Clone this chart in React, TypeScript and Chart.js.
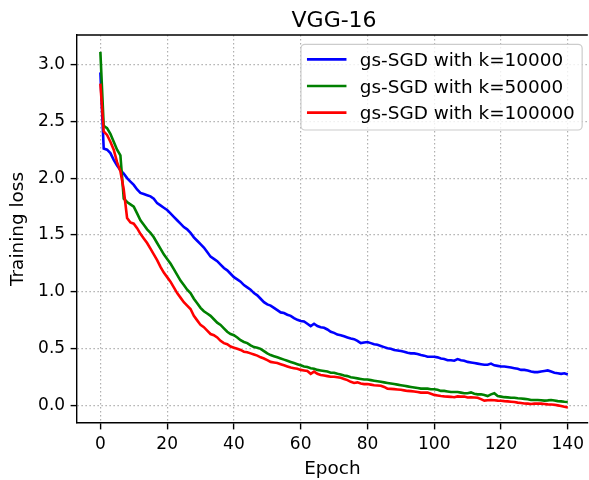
import React, { useEffect, useRef } from "react";
import { Chart, registerables } from "chart.js";

Chart.register(...registerables);

const chartTitle = "VGG-16";
const xAxisTitle = "Epoch";
const yAxisTitle = "Training loss";

const seriesLabels = ["gs-SGD with k=10000", "gs-SGD with k=50000", "gs-SGD with k=100000"];
const seriesColors = ["#0000ff", "#008000", "#ff0000"];

const epochs = Array.from({ length: 141 }, (_, i) => i);

const xTicks = [0, 20, 40, 60, 80, 100, 120, 140];
const yTicks = [0, 0.5, 1.0, 1.5, 2.0, 2.5, 3.0];

const lossK10000 = [
  2.93, 2.26, 2.25, 2.22, 2.16, 2.11, 2.07, 2.04, 2.0, 1.97,
  1.94, 1.9, 1.87, 1.86, 1.85, 1.84, 1.82, 1.78, 1.76, 1.74,
  1.72, 1.69, 1.66, 1.63, 1.6, 1.57, 1.55, 1.52, 1.48, 1.45,
  1.42, 1.39, 1.35, 1.31, 1.29, 1.27, 1.24, 1.21, 1.19, 1.16,
  1.13, 1.11, 1.09, 1.06, 1.04, 1.02, 0.99, 0.97, 0.94, 0.91,
  0.89, 0.88, 0.86, 0.84, 0.82, 0.815, 0.8, 0.79, 0.77, 0.755,
  0.745, 0.74, 0.72, 0.7, 0.72, 0.7, 0.69, 0.685, 0.67, 0.65,
  0.64, 0.625, 0.62, 0.61, 0.6, 0.59, 0.585, 0.57, 0.55, 0.555,
  0.56, 0.55, 0.54, 0.535, 0.525, 0.515, 0.505, 0.5, 0.49, 0.485,
  0.48, 0.475, 0.465, 0.46, 0.46, 0.455, 0.445, 0.44, 0.43, 0.43,
  0.43, 0.425, 0.415, 0.41, 0.4, 0.4, 0.395, 0.41, 0.4, 0.395,
  0.385, 0.38, 0.375, 0.37, 0.365, 0.36, 0.36, 0.37, 0.355, 0.35,
  0.345, 0.345, 0.34, 0.335, 0.33, 0.325, 0.315, 0.315, 0.31, 0.3,
  0.295, 0.295, 0.3, 0.305, 0.31, 0.3, 0.29, 0.285, 0.28, 0.285,
  0.275,
];

const lossK50000 = [
  3.11, 2.46, 2.44, 2.39, 2.32, 2.25, 2.2, 1.82, 1.79, 1.77,
  1.75, 1.69, 1.63, 1.59, 1.55, 1.52, 1.48, 1.43, 1.38, 1.33,
  1.29, 1.25, 1.2, 1.15, 1.1, 1.06, 1.02, 0.99, 0.94, 0.9,
  0.86, 0.83, 0.81, 0.79, 0.76, 0.73, 0.71, 0.68, 0.65, 0.63,
  0.62, 0.6, 0.575, 0.56, 0.55, 0.53, 0.515, 0.51, 0.5, 0.48,
  0.46, 0.445, 0.435, 0.425, 0.415, 0.405, 0.395, 0.385, 0.375, 0.365,
  0.355, 0.345, 0.34, 0.33, 0.325, 0.315, 0.31, 0.305, 0.3, 0.29,
  0.29, 0.28, 0.275, 0.265, 0.26, 0.25, 0.245, 0.24, 0.235, 0.23,
  0.23, 0.225, 0.22, 0.215, 0.21, 0.205, 0.2, 0.195, 0.19, 0.185,
  0.18, 0.175, 0.17, 0.165, 0.16, 0.155, 0.15, 0.15, 0.15, 0.145,
  0.145, 0.14, 0.13, 0.13, 0.125, 0.12, 0.12, 0.12, 0.115, 0.11,
  0.11, 0.117, 0.105, 0.1, 0.1, 0.095, 0.085, 0.1, 0.11, 0.085,
  0.08, 0.075, 0.073, 0.07, 0.07, 0.065, 0.063, 0.06, 0.057, 0.05,
  0.05, 0.05, 0.048, 0.045, 0.047, 0.05, 0.045, 0.04, 0.038, 0.035,
  0.033,
];

const lossK100000 = [
  2.83, 2.41, 2.38, 2.32, 2.25, 2.14, 2.06, 1.9, 1.65, 1.61,
  1.6, 1.56, 1.51, 1.47, 1.43, 1.38, 1.33, 1.28, 1.22, 1.17,
  1.13, 1.09, 1.04, 0.99, 0.95, 0.91, 0.88, 0.85, 0.79, 0.75,
  0.71, 0.69, 0.66, 0.63, 0.62, 0.6, 0.57, 0.55, 0.54, 0.52,
  0.51, 0.5, 0.49, 0.475, 0.47, 0.46, 0.45, 0.44, 0.425, 0.415,
  0.4, 0.385, 0.38, 0.375, 0.365, 0.355, 0.345, 0.335, 0.33, 0.325,
  0.315, 0.31, 0.305, 0.28, 0.3, 0.28, 0.27, 0.265, 0.26, 0.255,
  0.255, 0.25, 0.245, 0.235, 0.225, 0.21, 0.2, 0.205, 0.195, 0.19,
  0.19, 0.185, 0.18, 0.178, 0.175, 0.165, 0.15, 0.148, 0.146, 0.143,
  0.14, 0.135, 0.13, 0.128, 0.125, 0.12, 0.115, 0.115, 0.115, 0.105,
  0.095, 0.09, 0.085, 0.082, 0.08, 0.078, 0.075, 0.082, 0.08, 0.08,
  0.072, 0.073, 0.072, 0.07, 0.058, 0.045, 0.048, 0.05, 0.048, 0.045,
  0.043, 0.04, 0.038, 0.035, 0.032, 0.027, 0.024, 0.02, 0.018, 0.015,
  0.018, 0.02, 0.018, 0.015, 0.012, 0.01, 0.008, 0.003, -0.002, -0.01,
  -0.015,
];

const seriesValues = [lossK10000, lossK50000, lossK100000];

const FONT = '"DejaVu Sans", sans-serif';
const TICK_SIZE = 17;
const LABEL_SIZE = 18.4;

const bgPlugin = {
  id: "bgWhite",
  beforeDraw(chart: any) {
    const { ctx, width, height } = chart;
    ctx.save();
    ctx.fillStyle = "#ffffff";
    ctx.fillRect(0, 0, width, height);
    ctx.restore();
  },
};

const framePlugin = {
  id: "frameAndDecor",
  afterDraw(chart: any) {
    const { ctx, chartArea } = chart;
    const { left, top, right } = chartArea;
    ctx.save();
    // top spine
    ctx.strokeStyle = "#000000";
    ctx.lineWidth = 1.4;
    ctx.beginPath();
    ctx.moveTo(left - 0.7, top);
    ctx.lineTo(right, top);
    ctx.stroke();

    // title
    ctx.fillStyle = "#000000";
    ctx.font = `22px ${FONT}`;
    ctx.textAlign = "center";
    ctx.textBaseline = "alphabetic";
    const axesRight = left + (147 - -7) * ((right - left) / (146 - -7));
    ctx.fillText(chartTitle, (left + axesRight) / 2, top - 7.6);

    // legend
    ctx.font = `${LABEL_SIZE}px ${FONT}`;
    const textWidths = seriesLabels.map((s) => ctx.measureText(s).width);
    const maxW = Math.max(...textWidths);
    const pad = 0.4 * LABEL_SIZE;
    const handleLen = 2 * LABEL_SIZE;
    const handleGap = 0.8 * LABEL_SIZE;
    const boxRight = axesRight - 9;
    const boxW = pad * 2 + handleLen + handleGap + maxW;
    const boxLeft = boxRight - boxW;
    const boxTop = top + 9.3;
    const rowH = 26.7;
    const boxH = 85.7;
    ctx.beginPath();
    (ctx as any).roundRect(boxLeft, boxTop, boxW, boxH, 4);
    ctx.fillStyle = "rgba(255,255,255,0.8)";
    ctx.fill();
    ctx.strokeStyle = "#cccccc";
    ctx.lineWidth = 1.2;
    ctx.stroke();
    seriesLabels.forEach((label, i) => {
      const cy = boxTop + 15 + i * rowH;
      ctx.strokeStyle = seriesColors[i];
      ctx.lineWidth = 2.7;
      ctx.lineCap = "square";
      ctx.beginPath();
      ctx.moveTo(boxLeft + pad, cy);
      ctx.lineTo(boxLeft + pad + handleLen, cy);
      ctx.stroke();
      ctx.fillStyle = "#000000";
      ctx.textAlign = "left";
      ctx.textBaseline = "alphabetic";
      ctx.fillText(label, boxLeft + pad + handleLen + handleGap, cy + (0.729 * LABEL_SIZE) / 2);
    });
    ctx.restore();
  },
};

export default function App() {
  const canvasRef = useRef<HTMLCanvasElement | null>(null);

  useEffect(() => {
    document.body.style.margin = "0";
    const canvas = canvasRef.current;
    if (!canvas) return;
    const datasets = seriesLabels.map((label, i) => ({
      label,
      data: epochs.map((e, j) => ({ x: e, y: seriesValues[i][j] })),
      borderColor: seriesColors[i],
      backgroundColor: seriesColors[i],
      borderWidth: 2.6,
      pointRadius: 0,
      tension: 0,
      fill: false,
      order: 3 - i,
    }));

    const gridCommon = {
      color: "#b0b0b0",
      lineWidth: 1.2,
      drawTicks: true,
      tickLength: 6.4,
      tickColor: "#000000",
      tickWidth: 1.4,
      tickBorderDash: [],
    };

    const chart = new Chart(canvas, {
      type: "line",
      data: { datasets },
      options: {
        animation: false,
        responsive: false,
        maintainAspectRatio: false,
        devicePixelRatio: 1,
        layout: { padding: { left: 0, top: 35, right: 0, bottom: 0 } },
        plugins: {
          legend: { display: false },
          title: { display: false },
          tooltip: { enabled: false },
        },
        scales: {
          x: {
            type: "linear",
            min: -7,
            max: 146,
            grid: gridCommon as any,
            border: { display: true, color: "#000000", width: 1.4, dash: [1.5, 2.5] } as any,
            ticks: {
              color: "#000000",
              font: { family: FONT, size: TICK_SIZE },
              padding: 5,
              maxRotation: 0,
              callback: (v: any) => String(v),
            },
            afterBuildTicks: (scale: any) => {
              scale.ticks = xTicks.map((v) => ({ value: v }));
            },
            afterFit: (scale: any) => {
              scale.height = 57;
            },
            title: {
              display: true,
              text: xAxisTitle,
              color: "#000000",
              font: { family: FONT, size: LABEL_SIZE },
              padding: { top: 0, bottom: 0 },
            },
          },
          y: {
            type: "linear",
            min: -0.152,
            max: 3.258,
            grid: gridCommon as any,
            border: { display: true, color: "#000000", width: 1.4, dash: [1.5, 2.5] } as any,
            ticks: {
              color: "#000000",
              font: { family: FONT, size: TICK_SIZE },
              padding: 5.5,
              callback: (v: any) => Number(v).toFixed(1),
            },
            afterBuildTicks: (scale: any) => {
              scale.ticks = yTicks.map((v) => ({ value: v }));
            },
            afterFit: (scale: any) => {
              scale.width = 77;
            },
            title: {
              display: true,
              text: yAxisTitle,
              color: "#000000",
              font: { family: FONT, size: LABEL_SIZE },
              padding: { top: 7.5, bottom: 0 },
            },
          },
        },
      },
      plugins: [bgPlugin, framePlugin],
    } as any);

    return () => {
      chart.destroy();
    };
  }, []);

  return (
    <div style={{ position: "absolute", left: 0, top: 0, width: 589, height: 480 }}>
      <canvas ref={canvasRef} width={589} height={480} style={{ display: "block", width: 589, height: 480 }} />
    </div>
  );
}
